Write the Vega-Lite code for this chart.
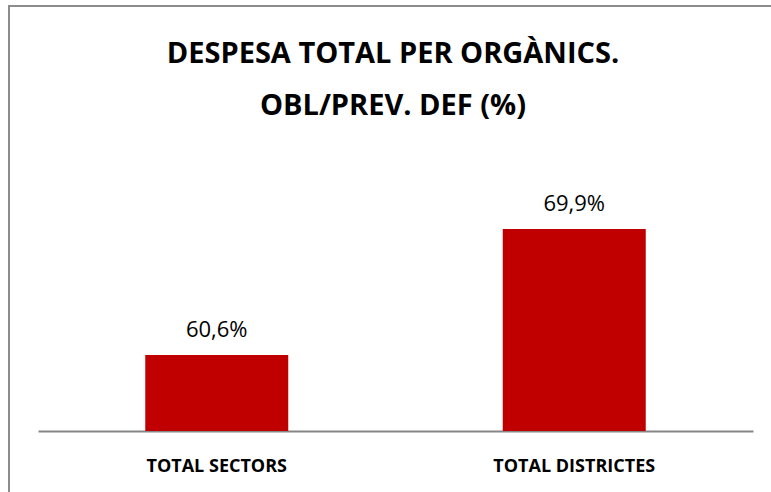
{
  "$schema": "https://vega.github.io/schema/vega-lite/v6.json",
  "width": 762,
  "height": 486,
  "autosize": {"type": "none"},
  "padding": {"left": 9, "top": 6, "right": 0, "bottom": 0},
  "background": "white",
  "config": {
    "view": {"stroke": "#8c8c8c", "strokeWidth": 2, "strokeDash": [762, 1248, 486]},
    "locale": {"number": {"decimal": ",", "thousands": ".", "grouping": [3], "currency": ["", " €"]}}
  },
  "title": {
    "text": ["DESPESA TOTAL PER ORGÀNICS.", "OBL/PREV. DEF (%)"],
    "anchor": "middle",
    "frame": "group",
    "font": "Open Sans",
    "fontSize": 29,
    "fontWeight": "bold",
    "color": "#000000",
    "lineHeight": 52,
    "baseline": "top",
    "offset": -115,
    "dx": 3
  },
  "data": {
    "values": [
      {"categoria": "Total Sectors", "valor": 0.606},
      {"categoria": "Total Districtes", "valor": 0.699}
    ]
  },
  "encoding": {
    "x": {
      "field": "categoria",
      "type": "nominal",
      "sort": null,
      "scale": {"range": [29, 744], "paddingInner": 0.6, "paddingOuter": 0.3},
      "axis": {
        "orient": "bottom",
        "offset": -61,
        "title": null,
        "ticks": false,
        "tickSize": 0,
        "grid": false,
        "domain": true,
        "domainColor": "#868686",
        "domainWidth": 2,
        "labelFont": "Open Sans",
        "labelFontSize": 18,
        "labelFontWeight": "bold",
        "labelColor": "#000000",
        "labelPadding": 40,
        "labelBaseline": "alphabetic",
        "labelAngle": 0,
        "labelExpr": "upper(datum.label)"
      }
    }
  },
  "layer": [
    {
      "mark": {"type": "bar", "color": "#C00000"},
      "encoding": {
        "y": {
          "field": "valor",
          "type": "quantitative",
          "scale": {"domain": [0.55, 0.75], "range": [425, 154], "zero": false, "nice": false},
          "axis": null
        },
        "y2": {"datum": 0.55}
      }
    },
    {
      "mark": {"type": "text", "font": "Open Sans", "fontSize": 22, "dy": -18, "baseline": "alphabetic", "align": "center", "color": "#000000"},
      "encoding": {
        "y": {"field": "valor", "type": "quantitative"},
        "text": {"field": "valor", "type": "quantitative", "format": ".1%"}
      }
    }
  ]
}
